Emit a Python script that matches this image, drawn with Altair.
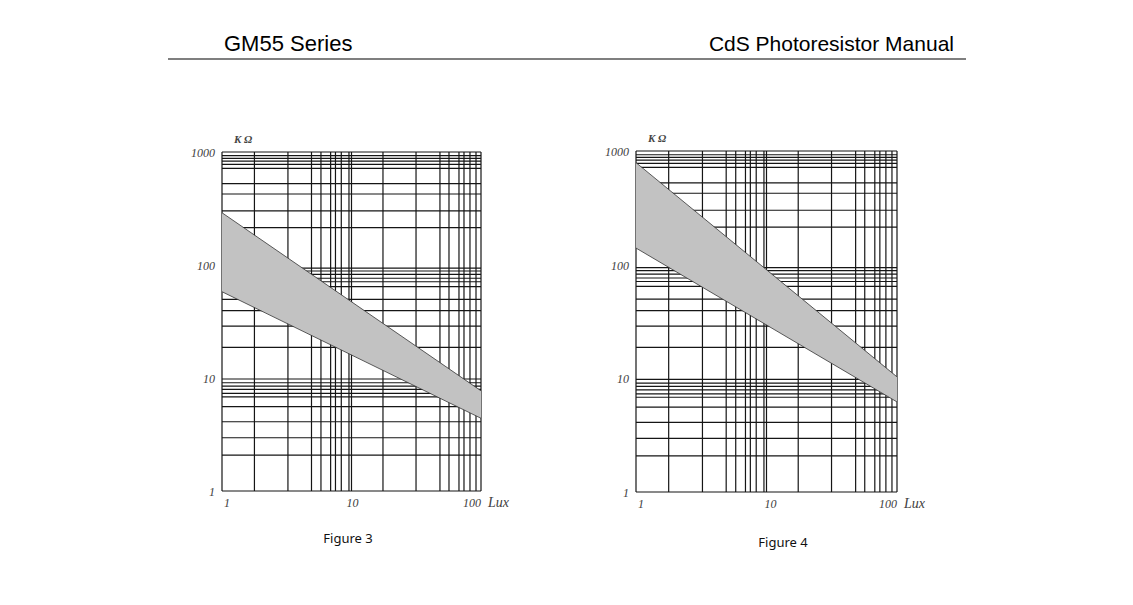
import altair as alt
import pandas as pd

# ---------------- data ----------------
# grid lines (same paper for both figures)
GRID_LUX = [1, 1.78, 3.23, 4.91, 5.81, 6.90, 7.52, 8.34, 9.56, 10.0,
            17.5, 31.5, 48.2, 56.6, 67.6, 73.9, 82.2, 91.5, 100]
GRID_KOHM = [1, 2.08, 2.96, 4.10, 5.57, 6.82, 7.31, 7.93, 8.49, 9.08, 9.8,
             18.7, 28.8, 39.4, 49.7, 64.3, 71.1, 76.3, 82.7, 88.5, 94.0,
             214, 301, 425, 524, 717, 778, 832, 879, 927, 1000]

# Figure 3 band (resistance range, kOhm, vs illuminance, lux)
FIG3_LUX = [1, 100]
FIG3_MAX = [290, 7.7]
FIG3_MIN = [58, 4.4]

# Figure 4 band
FIG4_LUX = [1, 100]
FIG4_MAX = [790, 10.3]
FIG4_MIN = [140, 6.2]

Y_TICKS = [1000, 100, 10, 1]
Y_LABELS = ["1000", "100", "10", "1"]
X_TICKS = [1, 10, 100]
X_LABELS = ["1", "10", "100"]

HEADER_LEFT = "GM55 Series"
HEADER_RIGHT = "CdS Photoresistor Manual"
CAPTIONS = ["Figure 3", "Figure 4"]

GRID_COLOR = "#151515"
BAND_COLOR = "#c2c2c2"
LABEL_COLOR = "#404040"
SERIF = "Liberation Serif"


def panel(lux, rmax, rmin, xr, yr, ten_dx):
    xs = alt.Scale(type="log", domain=[1, 100], range=xr, nice=False)
    ys = alt.Scale(type="log", domain=[1, 1000], range=yr, nice=False)
    layers = []

    gx = pd.DataFrame({"lux": GRID_LUX})
    layers.append(
        alt.Chart(gx).transform_calculate(lo="1", hi="1000")
        .mark_rule(color=GRID_COLOR, strokeWidth=1.2)
        .encode(x=alt.X("lux:Q", scale=xs, axis=None),
                y=alt.Y("lo:Q", scale=ys, axis=None), y2="hi:Q")
    )
    gy = pd.DataFrame({"kohm": GRID_KOHM})
    layers.append(
        alt.Chart(gy).transform_calculate(lo="1", hi="100")
        .mark_rule(color=GRID_COLOR, strokeWidth=1.2)
        .encode(y=alt.Y("kohm:Q", scale=ys, axis=None),
                x=alt.X("lo:Q", scale=xs, axis=None), x2="hi:Q")
    )

    band = pd.DataFrame({"lux": lux, "rmax": rmax, "rmin": rmin})
    layers.append(
        alt.Chart(band).mark_area(color=BAND_COLOR, opacity=1)
        .encode(x=alt.X("lux:Q", scale=xs, axis=None),
                y=alt.Y("rmax:Q", scale=ys, axis=None), y2="rmin:Q")
    )
    for col in ["rmax", "rmin"]:
        layers.append(
            alt.Chart(band).mark_line(color="#333333", strokeWidth=0.8)
            .encode(x=alt.X("lux:Q", scale=xs, axis=None),
                    y=alt.Y(f"{col}:Q", scale=ys, axis=None))
        )

    # y tick labels
    yl = pd.DataFrame({"k": Y_TICKS, "t": Y_LABELS})
    layers.append(
        alt.Chart(yl).transform_calculate(x0="1")
        .mark_text(align="right", baseline="middle", dx=-7, dy=1, font=SERIF,
                   fontStyle="italic", fontSize=12, color=LABEL_COLOR)
        .encode(x=alt.X("x0:Q", scale=xs, axis=None),
                y=alt.Y("k:Q", scale=ys, axis=None), text="t:N")
    )
    # x tick labels (first flush-left, middle centred, last flush-right)
    aligns = [("left", 2), ("center", ten_dx), ("right", 0)]
    for (v, t), (al, dx) in zip(zip(X_TICKS, X_LABELS), aligns):
        layers.append(
            alt.Chart(pd.DataFrame({"lux": [v], "t": [t]}))
            .transform_calculate(y0="1")
            .mark_text(align=al, baseline="middle", dx=dx, dy=12, font=SERIF,
                       fontStyle="italic", fontSize=12, color=LABEL_COLOR)
            .encode(x=alt.X("lux:Q", scale=xs, axis=None),
                    y=alt.Y("y0:Q", scale=ys, axis=None), text="t:N")
        )
    # unit labels
    layers.append(
        alt.Chart(pd.DataFrame({"lux": [100], "t": ["Lux"]}))
        .transform_calculate(y0="1")
        .mark_text(align="left", baseline="middle", dx=7, dy=12, font=SERIF,
                   fontStyle="italic", fontSize=14, color=LABEL_COLOR)
        .encode(x=alt.X("lux:Q", scale=xs, axis=None),
                y=alt.Y("y0:Q", scale=ys, axis=None), text="t:N")
    )
    layers.append(
        alt.Chart(pd.DataFrame({"lux": [1], "t": ["K Ω"]}))
        .transform_calculate(y0="1000")
        .mark_text(align="left", baseline="middle", dx=12, dy=-12, font=SERIF,
                   fontStyle="italic", fontWeight="bold", fontSize=11,
                   color="#444444")
        .encode(x=alt.X("lux:Q", scale=xs, axis=None),
                y=alt.Y("y0:Q", scale=ys, axis=None), text="t:N")
    )
    return layers


layers = []
layers += panel(FIG3_LUX, FIG3_MAX, FIG3_MIN, [214, 473], [483, 144], 1)
layers += panel(FIG4_LUX, FIG4_MAX, FIG4_MIN, [628, 889], [484, 143], 4)

one = pd.DataFrame({"t": [""]})
layers.append(
    alt.Chart(pd.DataFrame({"t": [HEADER_LEFT]}))
    .mark_text(align="left", baseline="middle", font="Liberation Sans",
               fontSize=22, color="#000000")
    .encode(x=alt.value(216), y=alt.value(36), text="t:N")
)
layers.append(
    alt.Chart(pd.DataFrame({"t": [HEADER_RIGHT]}))
    .mark_text(align="right", baseline="middle", font="Liberation Sans",
               fontSize=21, color="#000000")
    .encode(x=alt.value(946), y=alt.value(37), text="t:N")
)
layers.append(
    alt.Chart(one).mark_rule(color="#000000", strokeWidth=1.2)
    .encode(x=alt.value(160), x2=alt.value(958), y=alt.value(51))
)
layers.append(
    alt.Chart(pd.DataFrame({"t": [CAPTIONS[0]]}))
    .mark_text(align="center", baseline="middle", font="Noto Sans",
               fontSize=13, color="#111111")
    .encode(x=alt.value(340), y=alt.value(531), text="t:N")
)
layers.append(
    alt.Chart(pd.DataFrame({"t": [CAPTIONS[1]]}))
    .mark_text(align="center", baseline="middle", font="Noto Sans",
               fontSize=13, color="#111111")
    .encode(x=alt.value(775), y=alt.value(535), text="t:N")
)

chart = (
    alt.layer(*layers)
    .resolve_scale(x="independent", y="independent")
    .properties(width=1117, height=589, padding=0, autosize="none",
                background="#ffffff")
    .configure_view(stroke=None)
)

chart.save("out.html", embed_options={"renderer": "svg", "actions": False})
